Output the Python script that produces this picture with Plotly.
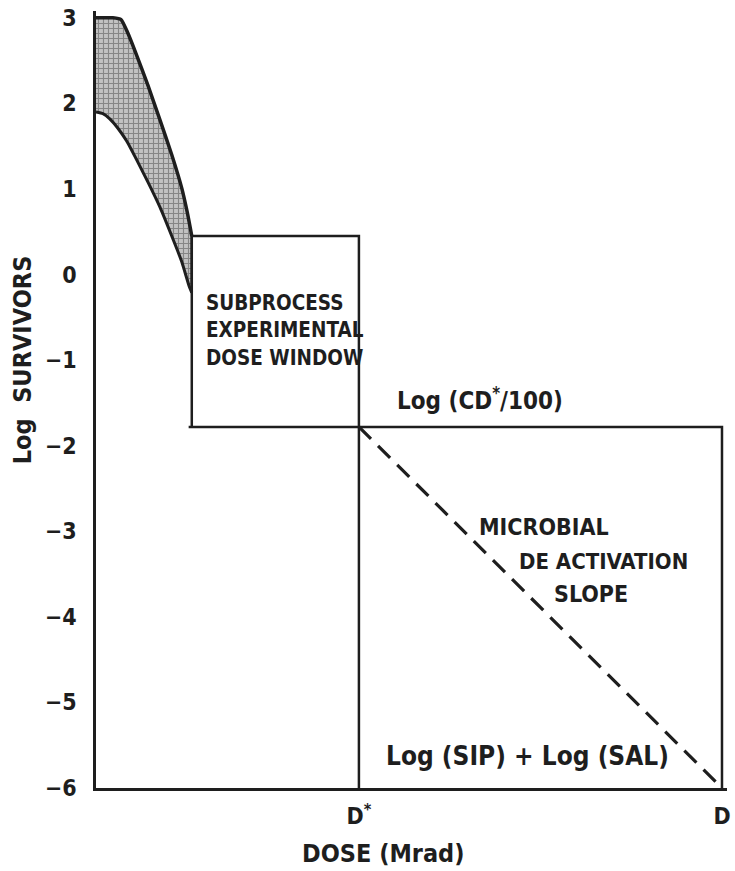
import plotly.graph_objects as go

# Dose axis (arbitrary units): D* and D marks
dose_tick_vals = [4.2, 10.0]
dose_tick_text = ["D<sup>*</sup>", "D"]
d_star = 4.2
d_max = 10.0

# Log survivors axis
log_tick_vals = [3, 2, 1, 0, -1, -2, -3, -4, -5, -6]
log_tick_text = ["3", "2", "1", "0", "\u22121", "\u22122", "\u22123", "\u22124", "\u22125", "\u22126"]

# Subprocess experimental dose window
window_left = 1.53
window_top = 0.45
cd_level = -1.78      # Log(CD*/100)
sal_level = -6.0      # Log(SIP) + Log(SAL)

# Survivor curve envelope (shaded band)
upper_x = [0.0, 0.27, 0.40, 0.51, 0.63, 0.83, 1.02, 1.21, 1.37, 1.46, 1.53]
upper_y = [3.0, 3.0, 2.98, 2.82, 2.60, 2.21, 1.81, 1.40, 1.01, 0.72, 0.45]
lower_x = [0.0, 0.11, 0.22, 0.35, 0.49, 0.65, 0.83, 1.02, 1.21, 1.37, 1.49, 1.53]
lower_y = [1.90, 1.88, 1.82, 1.71, 1.56, 1.34, 1.08, 0.79, 0.45, 0.15, -0.14, -0.21]

INK = "#1e1e1e"
FONT = "DejaVu Sans Condensed, DejaVu Sans, sans-serif"

fig = go.Figure()

# shaded envelope
band_x = upper_x + lower_x[::-1]
band_y = upper_y + lower_y[::-1]
fig.add_trace(go.Scatter(
    x=band_x, y=band_y, mode="lines", fill="toself",
    fillcolor="#a8a8a8",
    fillpattern=dict(shape="+", fgcolor="#4a4a4a", bgcolor="#c2c2c2", size=5, solidity=0.4),
    line=dict(width=0, shape="spline", smoothing=0.5), hoverinfo="skip"))
fig.add_trace(go.Scatter(x=upper_x, y=upper_y, mode="lines",
                         line=dict(color=INK, width=3.5, shape="spline", smoothing=0.5)))
fig.add_trace(go.Scatter(x=lower_x, y=lower_y, mode="lines",
                         line=dict(color=INK, width=3, shape="spline", smoothing=0.5)))
fig.add_trace(go.Scatter(x=[window_left, window_left], y=[lower_y[-1], upper_y[-1]], mode="lines",
                         line=dict(color=INK, width=2.5)))

# dose window box and the D* / D boundaries
fig.add_trace(go.Scatter(
    x=[window_left, window_left, d_star, d_star],
    y=[cd_level, window_top, window_top, sal_level],
    mode="lines", line=dict(color=INK, width=2.5)))
fig.add_trace(go.Scatter(
    x=[window_left - 0.05, d_max, d_max],
    y=[cd_level, cd_level, sal_level],
    mode="lines", line=dict(color=INK, width=2.5)))

# microbial deactivation slope
fig.add_trace(go.Scatter(
    x=[d_star, d_max], y=[cd_level, sal_level], mode="lines",
    line=dict(color=INK, width=3.2, dash="17px,10px")))

def label(text, x, y, size, **kw):
    fig.add_annotation(text=text, x=x, y=y, xref="x", yref="y", showarrow=False,
                       font=dict(family=FONT, size=size, color=INK, weight="bold"), **kw)

label("SUBPROCESS", 1.72, -0.33, 20.5, xanchor="left")
label("EXPERIMENTAL", 1.72, -0.65, 20.5, xanchor="left")
label("DOSE WINDOW", 1.72, -0.97, 20.5, xanchor="left")
label("Log (CD<sup>*</sup>/100)", 6.14, -1.45, 24)
label("MICROBIAL", 7.15, -2.95, 23)
label("DE ACTIVATION", 8.10, -3.35, 22)
label("SLOPE", 7.90, -3.73, 23)
label("Log (SIP) + Log (SAL)", 6.90, -5.63, 26)

fig.add_annotation(text="DOSE (Mrad)", x=(385 - 96) / 63, y=0, xref="x", yref="paper",
                   yshift=-82, showarrow=False,
                   font=dict(family=FONT, size=25, color=INK, weight="bold"))
fig.add_annotation(text="Log  SURVIVORS", x=0, y=3 - (360 - 18) / 85.57, xref="paper", yref="y",
                   xshift=-90, textangle=-90, showarrow=False,
                   font=dict(family=FONT, size=25, color=INK, weight="bold"))

fig.update_layout(
    width=735, height=871,
    margin=dict(l=96, r=4, t=11, b=83),
    paper_bgcolor="white", plot_bgcolor="white",
    showlegend=False,
    xaxis=dict(range=[0, 10.08], showgrid=False, zeroline=False,
               showline=True, linecolor=INK, linewidth=2.5,
               tickvals=dose_tick_vals, ticktext=dose_tick_text,
               ticks="outside", ticklen=6, tickcolor="rgba(0,0,0,0)",
               tickfont=dict(family=FONT, size=23, color=INK, weight="bold")),
    yaxis=dict(range=[-6, 3.08], showgrid=False, zeroline=False,
               showline=True, linecolor=INK, linewidth=2.5,
               tickvals=log_tick_vals, ticktext=log_tick_text,
               ticks="outside", ticklen=12, tickcolor="rgba(0,0,0,0)",
               tickfont=dict(family=FONT, size=23, color=INK, weight="bold")),
)

fig.write_html("out.html")
